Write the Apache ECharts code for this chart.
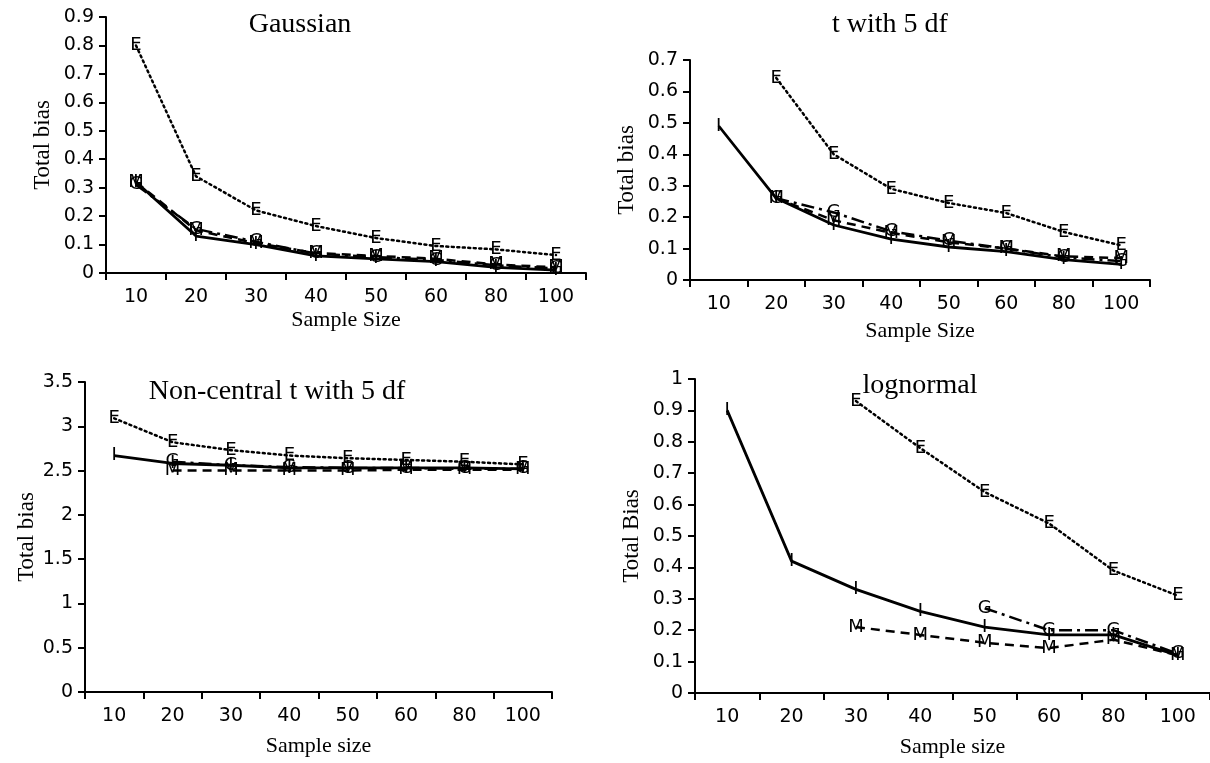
<!DOCTYPE html>
<html>
<head>
<meta charset="utf-8">
<script src="https://cdn.jsdelivr.net/npm/echarts@6/dist/echarts.min.js"></script>
<style>html,body{margin:0;padding:0;background:#fff}#c{width:1210px;height:763px}</style>
</head>
<body>
<div id="c"></div>
<script>
var categories = ['10','20','30','40','50','60','80','100'];

// Gaussian
var gaussE = [0.80, 0.34, 0.22, 0.165, 0.123, 0.095, 0.083, 0.063];
var gaussG = [0.31, 0.155, 0.11, 0.068, 0.056, 0.046, 0.027, 0.016];
var gaussM = [0.32, 0.15, 0.105, 0.07, 0.06, 0.05, 0.03, 0.02];
var gaussI = [0.32, 0.13, 0.10, 0.06, 0.05, 0.04, 0.02, 0.01];

// t with 5 df
var t5E = [null, 0.643, 0.40, 0.29, 0.245, 0.213, 0.153, 0.11];
var t5G = [null, 0.26, 0.215, 0.155, 0.125, 0.10, 0.072, 0.06];
var t5M = [null, 0.26, 0.19, 0.15, 0.12, 0.10, 0.075, 0.07];
var t5I = [0.49, 0.26, 0.175, 0.13, 0.105, 0.09, 0.065, 0.05];

// Non-central t with 5 df
var nctE = [3.09, 2.82, 2.73, 2.67, 2.64, 2.62, 2.60, 2.57];
var nctG = [null, 2.60, 2.56, 2.54, 2.53, 2.53, 2.52, 2.52];
var nctM = [null, 2.50, 2.50, 2.50, 2.50, 2.51, 2.51, 2.51];
var nctI = [2.67, 2.58, 2.56, 2.53, 2.53, 2.53, 2.53, 2.52];

// lognormal
var lnE = [null, null, 0.93, 0.78, 0.64, 0.54, 0.39, 0.31];
var lnG = [null, null, null, null, 0.27, 0.20, 0.20, 0.125];
var lnM = [null, null, 0.21, 0.185, 0.16, 0.143, 0.17, 0.12];
var lnI = [0.90, 0.42, 0.33, 0.26, 0.21, 0.185, 0.185, 0.12];

var yTicks = [
  {max: 0.9, interval: 0.1},
  {max: 0.7, interval: 0.1},
  {max: 3.5, interval: 0.5},
  {max: 1.0, interval: 0.1}
];
var titles = ['Gaussian', 't with 5 df', 'Non-central t with 5 df', 'lognormal'];
var yNames = ['Total bias', 'Total bias', 'Total bias', 'Total Bias'];
var xNames = ['Sample Size', 'Sample Size', 'Sample size', 'Sample size'];

var grids = [
  {left: 106, top: 17, width: 480, height: 256},
  {left: 690, top: 60, width: 460, height: 220},
  {left: 85, top: 382, width: 467, height: 310},
  {left: 695, top: 379, width: 515, height: 314}
];
var xGaps = [36, 40, 43, 43];
var yGaps = [52, 52, 44, 52];

var SANS = 'DejaVu Sans';
var SERIF = 'Liberation Serif';

var xAxes = grids.map(function (g, i) {
  return {
    gridIndex: i, type: 'category', data: categories, boundaryGap: true,
    name: xNames[i], nameLocation: 'middle', nameGap: xGaps[i],
    nameTextStyle: {fontFamily: SERIF, fontSize: 22, color: '#000'},
    axisLine: {show: true, lineStyle: {color: '#000', width: 2}},
    axisTick: {show: true, alignWithLabel: false, length: 7, lineStyle: {color: '#000', width: 2}},
    axisLabel: {fontFamily: SANS, fontSize: 19, color: '#000', margin: 15, interval: 0},
    splitLine: {show: false}
  };
});
var yAxes = grids.map(function (g, i) {
  return {
    gridIndex: i, type: 'value', min: 0, max: yTicks[i].max, interval: yTicks[i].interval,
    name: yNames[i], nameLocation: 'middle', nameGap: yGaps[i],
    nameTextStyle: {fontFamily: SERIF, fontSize: 23, color: '#000'},
    axisLine: {show: true, lineStyle: {color: '#000', width: 2}},
    axisTick: {show: true, length: 7, lineStyle: {color: '#000', width: 2}},
    axisLabel: {fontFamily: SANS, fontSize: 19, color: '#000', margin: 12},
    splitLine: {show: false}
  };
});

var styles = {
  E: {type: [2, 3.5], width: 2.5, cap: 'round'},
  G: {type: [13, 5, 3, 5], width: 2.5},
  M: {type: [9, 6], width: 2.5},
  I: {type: 'solid', width: 2.8}
};
var sets = [
  {E: gaussE, G: gaussG, M: gaussM, I: gaussI},
  {E: t5E, G: t5G, M: t5M, I: t5I},
  {E: nctE, G: nctG, M: nctM, I: nctI},
  {E: lnE, G: lnG, M: lnM, I: lnI}
];
var series = [];
sets.forEach(function (s, i) {
  ['E', 'G', 'M', 'I'].forEach(function (k, j) {
    series.push({
      type: 'line', name: k, xAxisIndex: i, yAxisIndex: i, data: s[k],
      symbol: 'circle', symbolSize: 1, showSymbol: true, connectNulls: false,
      itemStyle: {color: 'rgba(0,0,0,0)'},
      lineStyle: {color: '#000', width: styles[k].width, type: styles[k].type, cap: styles[k].cap || 'butt'},
      label: {show: true, position: 'inside', formatter: k, fontFamily: SANS, fontSize: 18, color: '#000'},
      z: 2 + j, animation: false, silent: true
    });
  });
});

var titlePos = [[300, 25], [890, 25], [277, 392], [920, 386]];
var graphic = titles.map(function (t, i) {
  return {type: 'text', x: titlePos[i][0], y: titlePos[i][1],
    style: {text: t, fontFamily: SERIF, fontSize: 28, fill: '#000', align: 'center', verticalAlign: 'middle'}};
});

var chart = echarts.init(document.getElementById('c'), null, {renderer: 'canvas'});
chart.setOption({
  backgroundColor: '#fff', animation: false,
  grid: grids, xAxis: xAxes, yAxis: yAxes, series: series, graphic: graphic
});
</script>
</body>
</html>
